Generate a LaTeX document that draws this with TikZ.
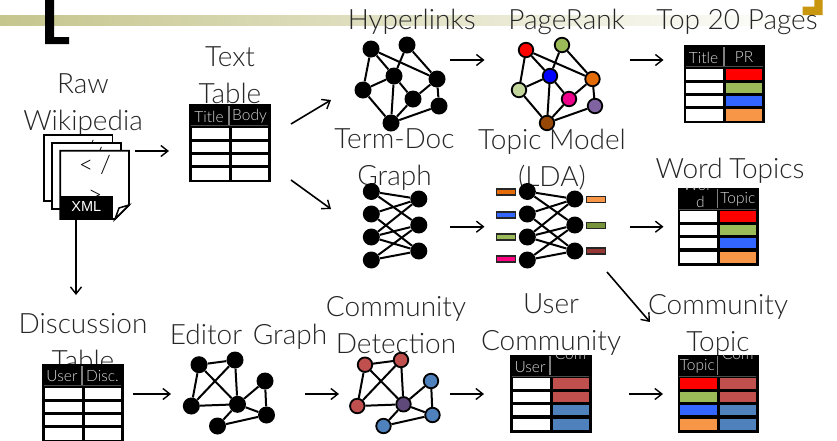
\documentclass[tikz,border=0pt]{standalone}
\usepackage{fontspec}
\setmainfont{Lato}[UprightFont=* Light]
\newfontfamily\arialf{Liberation Sans}
\usetikzlibrary{arrows.meta}
\definecolor{hdtxt}{HTML}{D9D9D9}
\definecolor{cRed}{HTML}{FF0000}
\definecolor{cGrn}{HTML}{9BBB59}
\definecolor{cBlu}{HTML}{3366FF}
\definecolor{cOrg}{HTML}{F79646}
\definecolor{cmR}{HTML}{C0504D}
\definecolor{cmB}{HTML}{4F81BD}
\definecolor{cmP}{HTML}{5F497A}
\definecolor{barOl}{RGB}{197,197,141}
\definecolor{goldC}{RGB}{200,150,15}
\definecolor{dkOrg}{HTML}{E36C09}
\definecolor{ltGrn}{HTML}{C3D69B}
\definecolor{brn}{HTML}{974806}
\definecolor{prp}{HTML}{8064A2}
\definecolor{pink}{HTML}{FF0080}
\definecolor{olv}{HTML}{77933C}
\definecolor{drd}{HTML}{953735}
\tikzset{
  x=1pt,y=-1pt,
  lbl/.style={align=center,inner sep=0pt,text=black!85,font=\fontsize{28}{37}\selectfont},
  arr/.style={draw=black,line width=1.6pt,-{Straight Barb[length=7pt,width=11pt,line width=1.4pt]}},
  gedge/.style={draw=black,line width=2pt},
  gnode/.style={circle,fill=black,inner sep=0pt,minimum size=17pt},
  cnode/.style={circle,draw=black,line width=1.8pt,inner sep=0pt,minimum size=14.5pt},
  tagbar/.style={draw=black!85,line width=1.5pt,minimum width=19pt,minimum height=6pt,inner sep=0pt},
  hd/.style={inner sep=0pt,text=hdtxt,font=\fontsize{15.5}{16}\selectfont},
  page/.style={draw=black,fill=white,line width=1.8pt},
  pgtxt/.style={inner sep=0pt,font=\fontsize{25}{26}\selectfont},
}
\newcommand{\tblcell}[5]{\fill[#1] ({#2},{#3}) rectangle ({#4},{#5});}
\newcommand{\dtable}[6]{%
  \node[fill=black,inner sep=0pt,minimum width=81.5pt,minimum height=78pt,anchor=north west] (#1) at (#2,#3) {};
  \fill[gray] ({#2+39.2},{#3+2}) rectangle ({#2+41},{#3+21});
  \draw[gray!60!black,line width=.4pt] ({#2+2},{#3+21.5}) -- ({#2+79},{#3+21.5});
  \begin{scope}\clip (#2,#3) rectangle ({#2+39.2},{#3+21.5});
    \node[hd] (#1h1) at ({#2+20},{#3+12.5}) {#4};
  \end{scope}
  \begin{scope}\clip ({#2+41},#3) rectangle ({#2+81.5},{#3+21.5});
    \node[hd] (#1h2) at ({#2+60.5},{#3+12.5}) {#5};
  \end{scope}
  \rowsLa{#2}{#3}#6
}
\newcommand{\rowsLa}[6]{%
  \tblcell{#3}{#1+2.5}{#2+23.5}{#1+39.5}{#2+34.5}
  \tblcell{#4}{#1+2.5}{#2+37.5}{#1+39.5}{#2+47.7}
  \tblcell{#5}{#1+2.5}{#2+50.7}{#1+39.5}{#2+61}
  \tblcell{#6}{#1+2.5}{#2+64.3}{#1+39.5}{#2+75.7}
  \rowsRa{#1}{#2}}
\newcommand{\rowsRa}[6]{%
  \tblcell{#3}{#1+42.5}{#2+23.5}{#1+78.7}{#2+34.5}
  \tblcell{#4}{#1+42.5}{#2+37.5}{#1+78.7}{#2+47.7}
  \tblcell{#5}{#1+42.5}{#2+50.7}{#1+78.7}{#2+61}
  \tblcell{#6}{#1+42.5}{#2+64.3}{#1+78.7}{#2+75.7}}
\newcommand{\rawc}[1]{\raisebox{7.5pt}[0pt][0pt]{#1}}
\newcommand{\bipart}[1]{%
  \foreach \a/\b in {1/1,1/2,2/1,2/3,3/1,3/2,3/3,4/2,4/3}
    \draw[gedge] (#1l\a) -- (#1r\b);}
\newcommand{\bipnodes}[2]{%
  \node[gnode] (#1l1) at (#2,191.5) {};
  \node[gnode] (#1l2) at (#2,214) {};
  \node[gnode] (#1l3) at (#2,237) {};
  \node[gnode] (#1l4) at (#2,260) {};
  \node[gnode] (#1r1) at ({#2+47.5},199) {};
  \node[gnode] (#1r2) at ({#2+47.5},225) {};
  \node[gnode] (#1r3) at ({#2+47.5},251) {};
}
\begin{document}
\begin{tikzpicture}
\useasboundingbox (0,0) rectangle (837,440);
\fill[white] (0,0) rectangle (837,440);
% title bar and corners
\shade[left color=barOl,right color=white] (0,15) rectangle (810,25.7);
\fill[black] (45,0) rectangle (54,44) (45,37) rectangle (69,44);
\fill[goldC] (814.3,0) rectangle (822.7,15) (802.7,6.7) rectangle (822.7,15);
% labels
\node[lbl] (tRaw) at (83,104.5) {Raw\\Wikipedia};
\node[lbl] (tText) at (230,75) {Text\\Table};
\node[lbl] (tHyp) at (411.7,22) {Hyperlinks};
\node[lbl] (tPR) at (566.7,22) {PageRank};
\node[lbl] (tTop) at (737,22) {Top 20 Pages};
\node[lbl] (tTD) at (394.5,160) {Term-Doc\\Graph};
\node[lbl] (tTM) at (552,160) {Topic Model\\(LDA)};
\node[lbl] (tWT) at (730,171) {Word\hspace{-1pt} Topics};
\node[lbl] (tDisc) at (83,342) {Discussion\\Table};
\node[lbl] (tEd) at (248.5,337) {Editor\hspace{3pt} Graph};
\node[lbl] (tCD) at (396,325) {Community\\Detection};
\node[lbl] (tUC) at (551,325) {User\\Community};
\node[lbl] (tCT) at (718,325) {Community\\Topic};
% arrow ends
\coordinate (rawOut) at (135,151); \coordinate (textIn) at (169,151);
\coordinate (textUp) at (291,124); \coordinate (hypIn) at (331,100);
\coordinate (textDn) at (291,180); \coordinate (tdIn) at (331,209);
\coordinate (hypOut) at (450,60); \coordinate (prIn) at (484.5,60);
\coordinate (prOut) at (629.5,60); \coordinate (topIn) at (663.5,60);
\coordinate (tdOut) at (450,226.7); \coordinate (ldaIn) at (484.5,226.7);
\coordinate (ldaOut) at (629.5,226.7); \coordinate (wtIn) at (663.5,226.7);
\coordinate (xmlOut) at (76,217); \coordinate (discIn) at (76,295);
\coordinate (discOut) at (132.5,394); \coordinate (edIn) at (171,394);
\coordinate (edOut) at (305,394); \coordinate (cdIn) at (339,394);
\coordinate (cdOut) at (450,394); \coordinate (ucIn) at (484,394);
\coordinate (ucOut) at (629,394); \coordinate (ctIn) at (663,394);
\coordinate (ldaDn) at (607,272); \coordinate (ctTop) at (650,322);
\foreach \a/\b in {rawOut/textIn,textUp/hypIn,textDn/tdIn,hypOut/prIn,prOut/topIn,tdOut/ldaIn,ldaOut/wtIn,xmlOut/discIn,discOut/edIn,edOut/cdIn,cdOut/ucIn,ucOut/ctIn,ldaDn/ctTop}
  \draw[arr] (\a) -- (\b);
% pages
\draw[page] (44,135) rectangle (112.5,201);
\node[pgtxt] (p1) at (78.7,149.5) {< /};
\draw[page] (52.3,142.7) rectangle (120.8,208.7);
\node[pgtxt] (p2) at (87,157.2) {< /};
\draw[page] (60.3,150.7) -- (129,150.7) -- (129,205) -- (115,219) -- (60.3,219) -- cycle;
\node[pgtxt] (p3) at (95,165) {< /};
\node[pgtxt] (p3b) at (95,197) {>};
\draw[black,line width=1.5pt,fill=white] (129,205) -- (119,208) -- (115,219) -- cycle;
\node[fill=black,text=white,inner sep=0pt,minimum width=53.2pt,minimum height=21.6pt,anchor=north west,font=\arialf\fontsize{14.5}{16}\selectfont] (xml) at (59.5,195.7) {XML};
% tables
\dtable{tbText}{189}{104}{Title}{Body}{{white}{white}{white}{white}{white}{white}{white}{white}}
\dtable{tbTop}{683.5}{45}{Title}{PR}{{white}{white}{white}{white}{cRed}{cGrn}{cBlu}{cOrg}}
\dtable{tbWord}{677.3}{187.3}{\makebox[0pt]{\raisebox{9pt}[0pt][0pt]{Wor}}\makebox[0pt]{\hspace{6pt}\raisebox{-7.5pt}[0pt][0pt]{\clap{d}}}}{Topic}{{white}{white}{white}{white}{cRed}{cGrn}{cBlu}{cOrg}}
\dtable{tbDisc}{42}{364}{User}{Disc.}{{white}{white}{white}{white}{white}{white}{white}{white}}
\dtable{tbUser}{510}{354.3}{User}{\rawc{Com}}{{white}{white}{white}{white}{cmR}{cmR}{cmB}{cmB}}
\dtable{tbComm}{677.3}{354.3}{Topic}{\rawc{Com}}{{cRed}{cGrn}{cBlu}{cOrg}{cmR}{cmR}{cmB}{cmB}}
% hyperlink graph
\foreach \n/\x/\y in {a/371/49,b/407/45,c/394/76,d/437/79,e/363/90,f/413/99,g/439/106,h/391/123}
  \node[gnode] (h\n) at (\x,\y) {};
\foreach \a/\b in {a/c,a/d,a/e,b/c,b/d,c/e,c/f,c/h,d/f,d/g,e/h,f/h,g/h}
  \draw[gedge] (h\a) -- (h\b);
% pagerank graph
\foreach \n/\x/\y/\c in {a/526/50/cRed,b/562/45/cGrn,c/550/76/blue,d/592.5/79/dkOrg,e/519/90/ltGrn,f/569/99/magenta,g/595/106/prp,h/547/123/brn}
  \node[cnode,fill=\c] (r\n) at (\x,\y) {};
\foreach \a/\b in {a/c,a/d,a/e,b/c,b/d,c/e,c/f,c/h,d/f,d/g,e/h,f/h,g/h}
  \draw[gedge] (r\a) -- (r\b);
% term-doc graph
\bipnodes{t}{371.3}
\bipart{t}
% LDA graph
\bipnodes{m}{527.3}
\bipart{m}
\foreach \n/\y/\c in {1/192/dkOrg,2/215/cBlu,3/237/cGrn,4/259/pink}
  \node[tagbar,fill=\c] (ml\n b) at (506,\y) {};
\foreach \n/\y/\c in {1/199.5/cOrg,2/225.5/olv,3/251/drd}
  \node[tagbar,fill=\c] (mr\n b) at (596,\y) {};
% editor graph
\foreach \n/\x/\y in {a/199/364.7,b/235/360,c/265/381,d/191.3/406,e/237.5/404.3,f/266.5/415,g/217.5/426}
  \node[gnode] (e\n) at (\x,\y) {};
\foreach \a/\b in {a/b,a/d,a/e,b/d,b/e,c/e,c/f,d/e,e/f,e/g,f/g}
  \draw[gedge] (e\a) -- (e\b);
% community graph
\foreach \n/\x/\y/\c in {a/365/364.7/cmR,b/401/360/cmR,c/431/381/cmB,d/357.3/406/cmR,e/403.5/404.3/cmP,f/432.5/415/cmB,g/383.5/426/cmB}
  \node[cnode,fill=\c] (c\n) at (\x,\y) {};
\foreach \a/\b in {a/b,a/d,a/e,b/d,b/e,c/e,c/f,d/e,e/f,e/g,f/g}
  \draw[gedge] (c\a) -- (c\b);
\end{tikzpicture}
\end{document}
